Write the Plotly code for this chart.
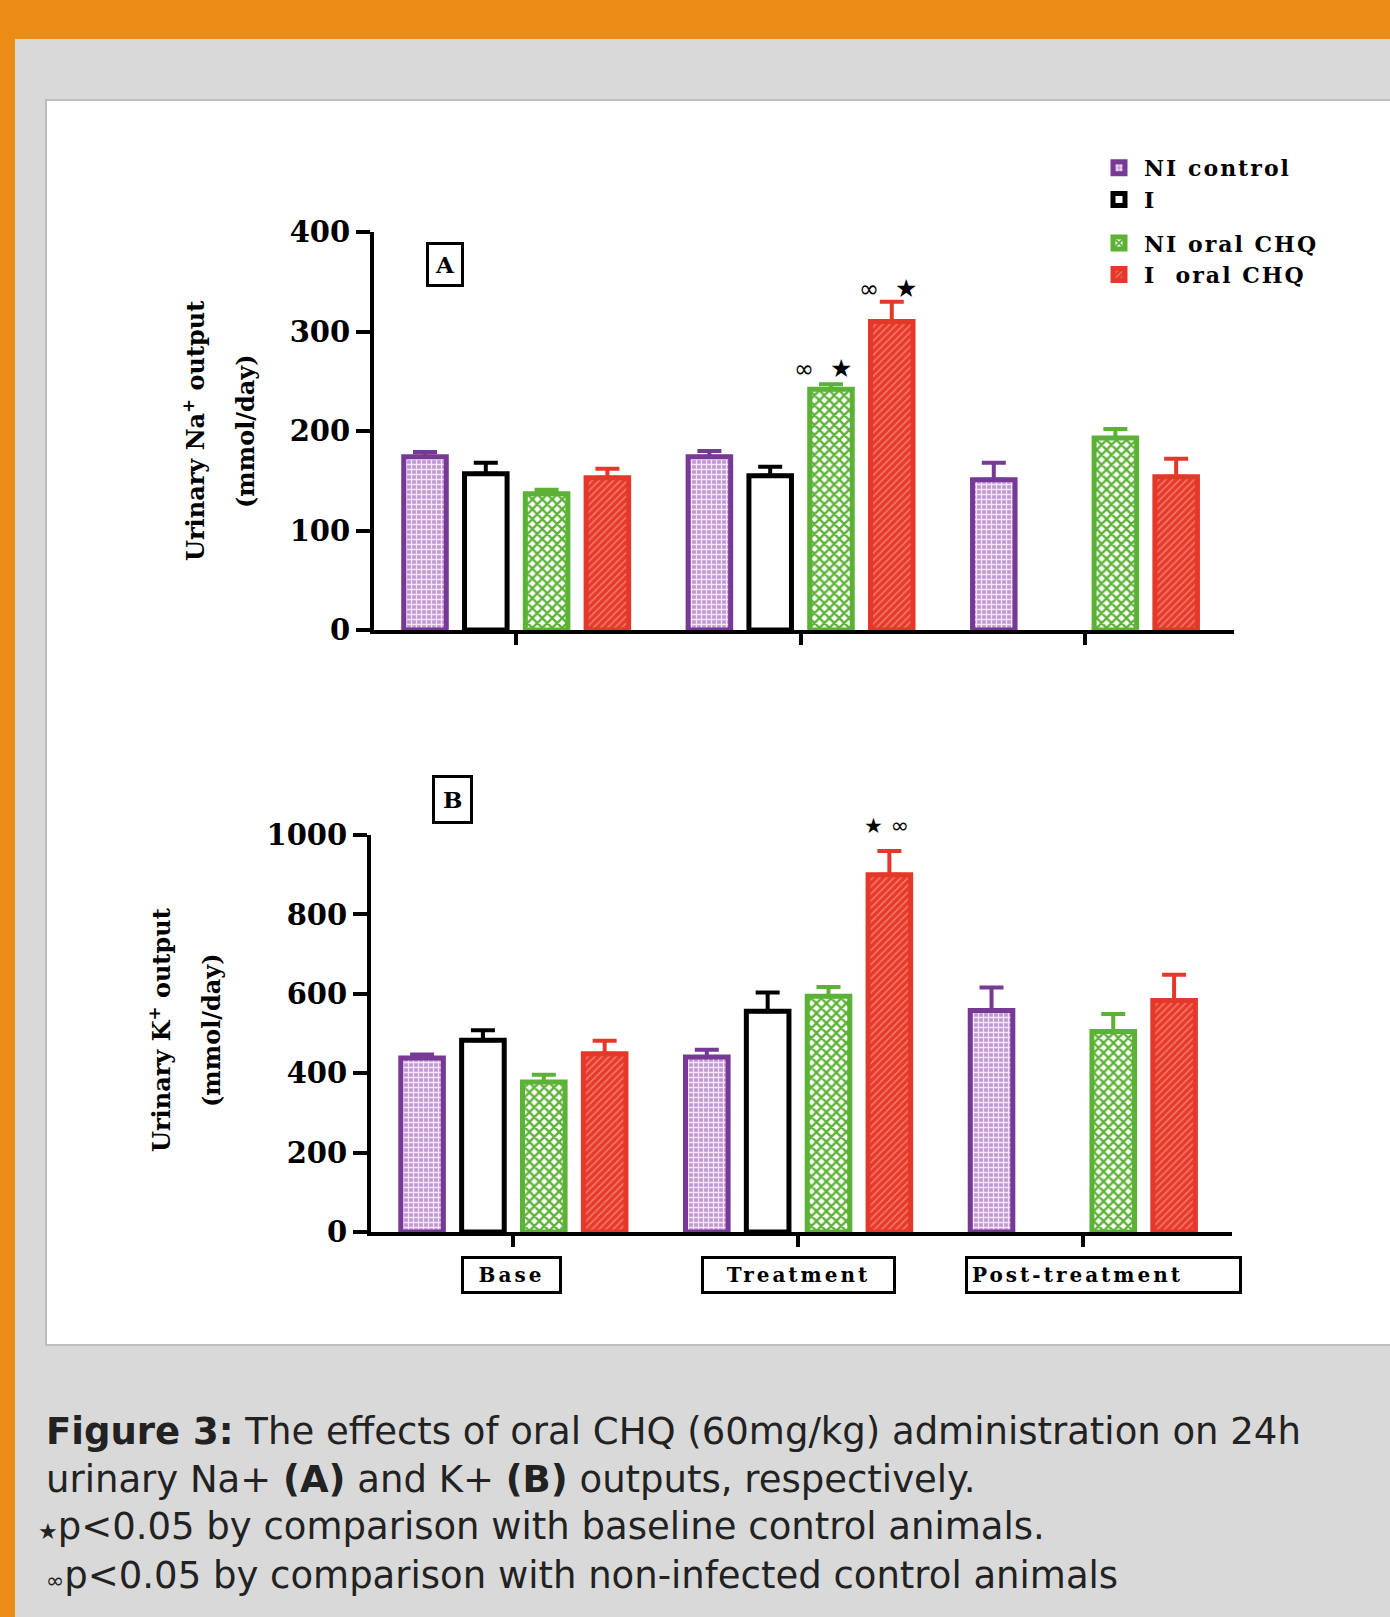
import plotly.graph_objects as go

# ---- data -------------------------------------------------------------
phases = ["Base", "Treatment", "Post-treatment"]
group_names = ["NI control", "I", "NI oral CHQ", "I&nbsp;&nbsp;oral CHQ"]

# Panel A: urinary Na+ output (mmol/day), mean and SEM
na_ni_control = [174, 174, 151]
na_i = [157, 155, None]
na_ni_chq = [137, 242, 193]
na_i_chq = [153, 310, 154]
na_sem_ni_control = [5, 6, 17]
na_sem_i = [11, 9, None]
na_sem_ni_chq = [4, 5, 9]
na_sem_i_chq = [9, 20, 18]

# Panel B: urinary K+ output (mmol/day), mean and SEM
k_ni_control = [438, 441, 558]
k_i = [483, 556, None]
k_ni_chq = [378, 594, 505]
k_i_chq = [449, 900, 583]
k_sem_ni_control = [9, 18, 58]
k_sem_i = [25, 47, None]
k_sem_ni_chq = [18, 23, 44]
k_sem_i_chq = [33, 60, 65]

na_ticks = [0, 100, 200, 300, 400]
k_ticks = [0, 200, 400, 600, 800, 1000]

# ---- page geometry (pixels) -------------------------------------------
W, H = 1390, 1617


def px(x):
    return x / W


def py(y):
    return 1 - y / H


PURPLE = "#773996"
GREEN = "#5cb236"
RED = "#e4382a"
BLACK = "#000000"
ORANGE = "#ea8c16"
SERIF = "DejaVu Serif"

styles = [
    dict(line=PURPLE, pattern=dict(shape="+", bgcolor="#c295d3", fgcolor="#f3e6f7",
                                   size=5, solidity=0.45, fillmode="replace")),
    dict(line=BLACK, pattern=None, fill="white"),
    dict(line=GREEN, pattern=dict(shape="x", bgcolor="#ffffff", fgcolor=GREEN,
                                  size=7, solidity=0.55, fillmode="replace")),
    dict(line=RED, pattern=dict(shape="/", bgcolor="#e63b2c", fgcolor="#f47a6c",
                                size=5, solidity=0.3, fillmode="replace")),
]

na_series = [na_ni_control, na_i, na_ni_chq, na_i_chq]
na_sems = [na_sem_ni_control, na_sem_i, na_sem_ni_chq, na_sem_i_chq]
k_series = [k_ni_control, k_i, k_ni_chq, k_i_chq]
k_sems = [k_sem_ni_control, k_sem_i, k_sem_ni_chq, k_sem_i_chq]

fig = go.Figure()


def spaced(txt, ls):
    return "<span style='letter-spacing:%dpx'>%s</span>" % (ls, txt)


def add_bars(series, sems, xa, ya, show_legend):
    for i, (vals, sem) in enumerate(zip(series, sems)):
        st = styles[i]
        marker = dict(line=dict(color=st["line"], width=5))
        if st["pattern"] is not None:
            marker["color"] = st["pattern"]["bgcolor"]
            marker["pattern"] = st["pattern"]
        else:
            marker["color"] = st["fill"]
        fig.add_trace(go.Bar(
            x=phases, y=vals, name=spaced(group_names[i], 2),
            xaxis=xa, yaxis=ya,
            marker=marker,
            error_y=dict(type="data", symmetric=False,
                         array=[s if s is not None else 0 for s in sem],
                         arrayminus=[0] * len(sem),
                         color=st["line"], thickness=4, width=12),
            showlegend=show_legend,
            legendgroup="g1" if i < 2 else "g2",
            offsetgroup=str(i),
        ))


add_bars(na_series, na_sems, "x", "y", True)
add_bars(k_series, k_sems, "x2", "y2", False)

tick_font = dict(family=SERIF, size=29, color="black", weight="bold")
x_common = dict(type="category", range=[-0.5, 2.524], showline=True, linewidth=4,
                linecolor="black", ticks="outside", ticklen=11, tickwidth=4,
                tickcolor="black", showticklabels=False, showgrid=False,
                zeroline=False, fixedrange=True)
y_common = dict(showline=True, linewidth=4, linecolor="black", ticks="outside",
                ticklen=14, tickwidth=4, tickcolor="black", showgrid=False,
                zeroline=False, tickfont=tick_font, ticklabelstandoff=0)

fig.update_layout(
    width=W, height=H,
    margin=dict(l=0, r=0, t=0, b=0, autoexpand=False),
    paper_bgcolor="#d9d9d9",
    plot_bgcolor="rgba(0,0,0,0)",
    barmode="group", bargap=0.145, bargroupgap=0.30,
    xaxis=dict(domain=[px(374), px(1234)], anchor="y", **x_common),
    yaxis=dict(domain=[py(630), py(232)], range=[0, 400], tickvals=na_ticks,
               anchor="x", **y_common),
    xaxis2=dict(domain=[px(371), px(1232)], anchor="y2", **x_common),
    yaxis2=dict(domain=[py(1232), py(835)], range=[0, 1000], tickvals=k_ticks,
                anchor="x2", **y_common),
    legend=dict(x=px(1094), y=py(147), xanchor="left", yanchor="top",
                font=dict(family=SERIF, size=22, color="black", weight="bold"),
                bgcolor="rgba(0,0,0,0)", tracegroupgap=12, itemwidth=40,
                traceorder="grouped"),
    showlegend=True,
)

# page frame: orange band and strip, white figure panel
fig.add_shape(type="rect", xref="paper", yref="paper", x0=0, x1=1, y0=py(39), y1=1,
              fillcolor=ORANGE, line_width=0, layer="below")
fig.add_shape(type="rect", xref="paper", yref="paper", x0=0, x1=px(15), y0=0, y1=1,
              fillcolor=ORANGE, line_width=0, layer="below")
fig.add_shape(type="rect", xref="paper", yref="paper", x0=px(46), x1=1.01,
              y0=py(1345), y1=py(100), fillcolor="white",
              line=dict(color="#bdbdbd", width=2), layer="below")

annotations = []
title_font = dict(family=SERIF, size=24, color="black", weight="bold")

# y-axis titles (two rotated lines each)
for xx, yy, txt in [
    (194, 431, "Urinary Na<sup>+</sup> output"),
    (245, 431, "(mmol/day)"),
    (160, 1030, "Urinary K<sup>+</sup> output"),
    (211, 1030, "(mmol/day)"),
]:
    annotations.append(dict(
        xref="paper", yref="paper", x=px(xx), y=py(yy), xanchor="center",
        yanchor="middle", text=txt, textangle=-90, showarrow=False, font=title_font))

# panel letters
for letter, (lx, ly, pad) in {"A": (445, 265, 6), "B": (452, 800, 8)}.items():
    annotations.append(dict(
        xref="paper", yref="paper", x=px(lx), y=py(ly), xanchor="center",
        yanchor="middle", text=letter, showarrow=False,
        font=dict(family=SERIF, size=23, color="black", weight="bold"),
        bordercolor="black", borderwidth=3, borderpad=pad, bgcolor="white"))

# boxed phase labels under panel B
box_widths = {"Base": 87, "Treatment": 181, "Post-treatment": 263}
box_shift = {"Base": -2, "Treatment": 0, "Post-treatment": 21}
for ph in phases:
    annotations.append(dict(
        xref="x2", yref="y2", x=ph, y=0, yanchor="top", yshift=-24,
        xshift=box_shift[ph], text=spaced(ph, 3),
        showarrow=False, width=box_widths[ph],
        align="left" if ph == "Post-treatment" else "center",
        font=dict(family=SERIF, size=20, color="black", weight="bold"),
        bordercolor="black", borderwidth=3, borderpad=4, bgcolor="white"))

# significance marks
inf = "<span style='font-size:24px'>∞</span>"
star = "★"
sig_font = dict(family="DejaVu Sans", size=25, color="black")
bar_px = 60.8
annotations.append(dict(xref="x", yref="y", x="Treatment",
                        y=na_ni_chq[1] + na_sem_ni_chq[1], yanchor="bottom", yshift=-1,
                        xshift=0.5 * bar_px - 8, text=inf + "&nbsp;&nbsp;" + star,
                        showarrow=False, font=sig_font))
annotations.append(dict(xref="x", yref="y", x="Treatment",
                        y=na_i_chq[1] + na_sem_i_chq[1], yanchor="bottom", yshift=-3,
                        xshift=1.5 * bar_px - 4, text=inf + "&nbsp;&nbsp;" + star,
                        showarrow=False, font=sig_font))
annotations.append(dict(xref="x2", yref="y2", x="Treatment",
                        y=k_i_chq[1] + k_sem_i_chq[1], yanchor="bottom", yshift=10,
                        xshift=1.5 * bar_px - 3,
                        text="<span style='font-size:21px'>★</span>&nbsp;"
                             "<span style='font-size:22px'>∞</span>",
                        showarrow=False, font=sig_font))

# caption
cap_font = dict(family="DejaVu Sans", size=37, color="#222222")
caption_lines = [
    (1431, 44, "<b>Figure 3:</b> The effects of oral CHQ (60mg/kg) administration on 24h"),
    (1479, 44, "urinary Na+ <b>(A)</b> and K+ <b>(B)</b> outputs, respectively."),
    (1526, 36, "<span style='font-size:22px'>★</span>p&lt;0.05 by comparison with baseline control animals."),
    (1575, 44, "<span style='font-size:22px'>∞</span>p&lt;0.05 by comparison with non-infected control animals"),
]
for yy, xx, txt in caption_lines:
    annotations.append(dict(xref="paper", yref="paper", x=px(xx), y=py(yy),
                            xanchor="left", yanchor="middle", text=txt,
                            showarrow=False, font=cap_font))

fig.update_layout(annotations=annotations)

fig.write_html("out.html")
